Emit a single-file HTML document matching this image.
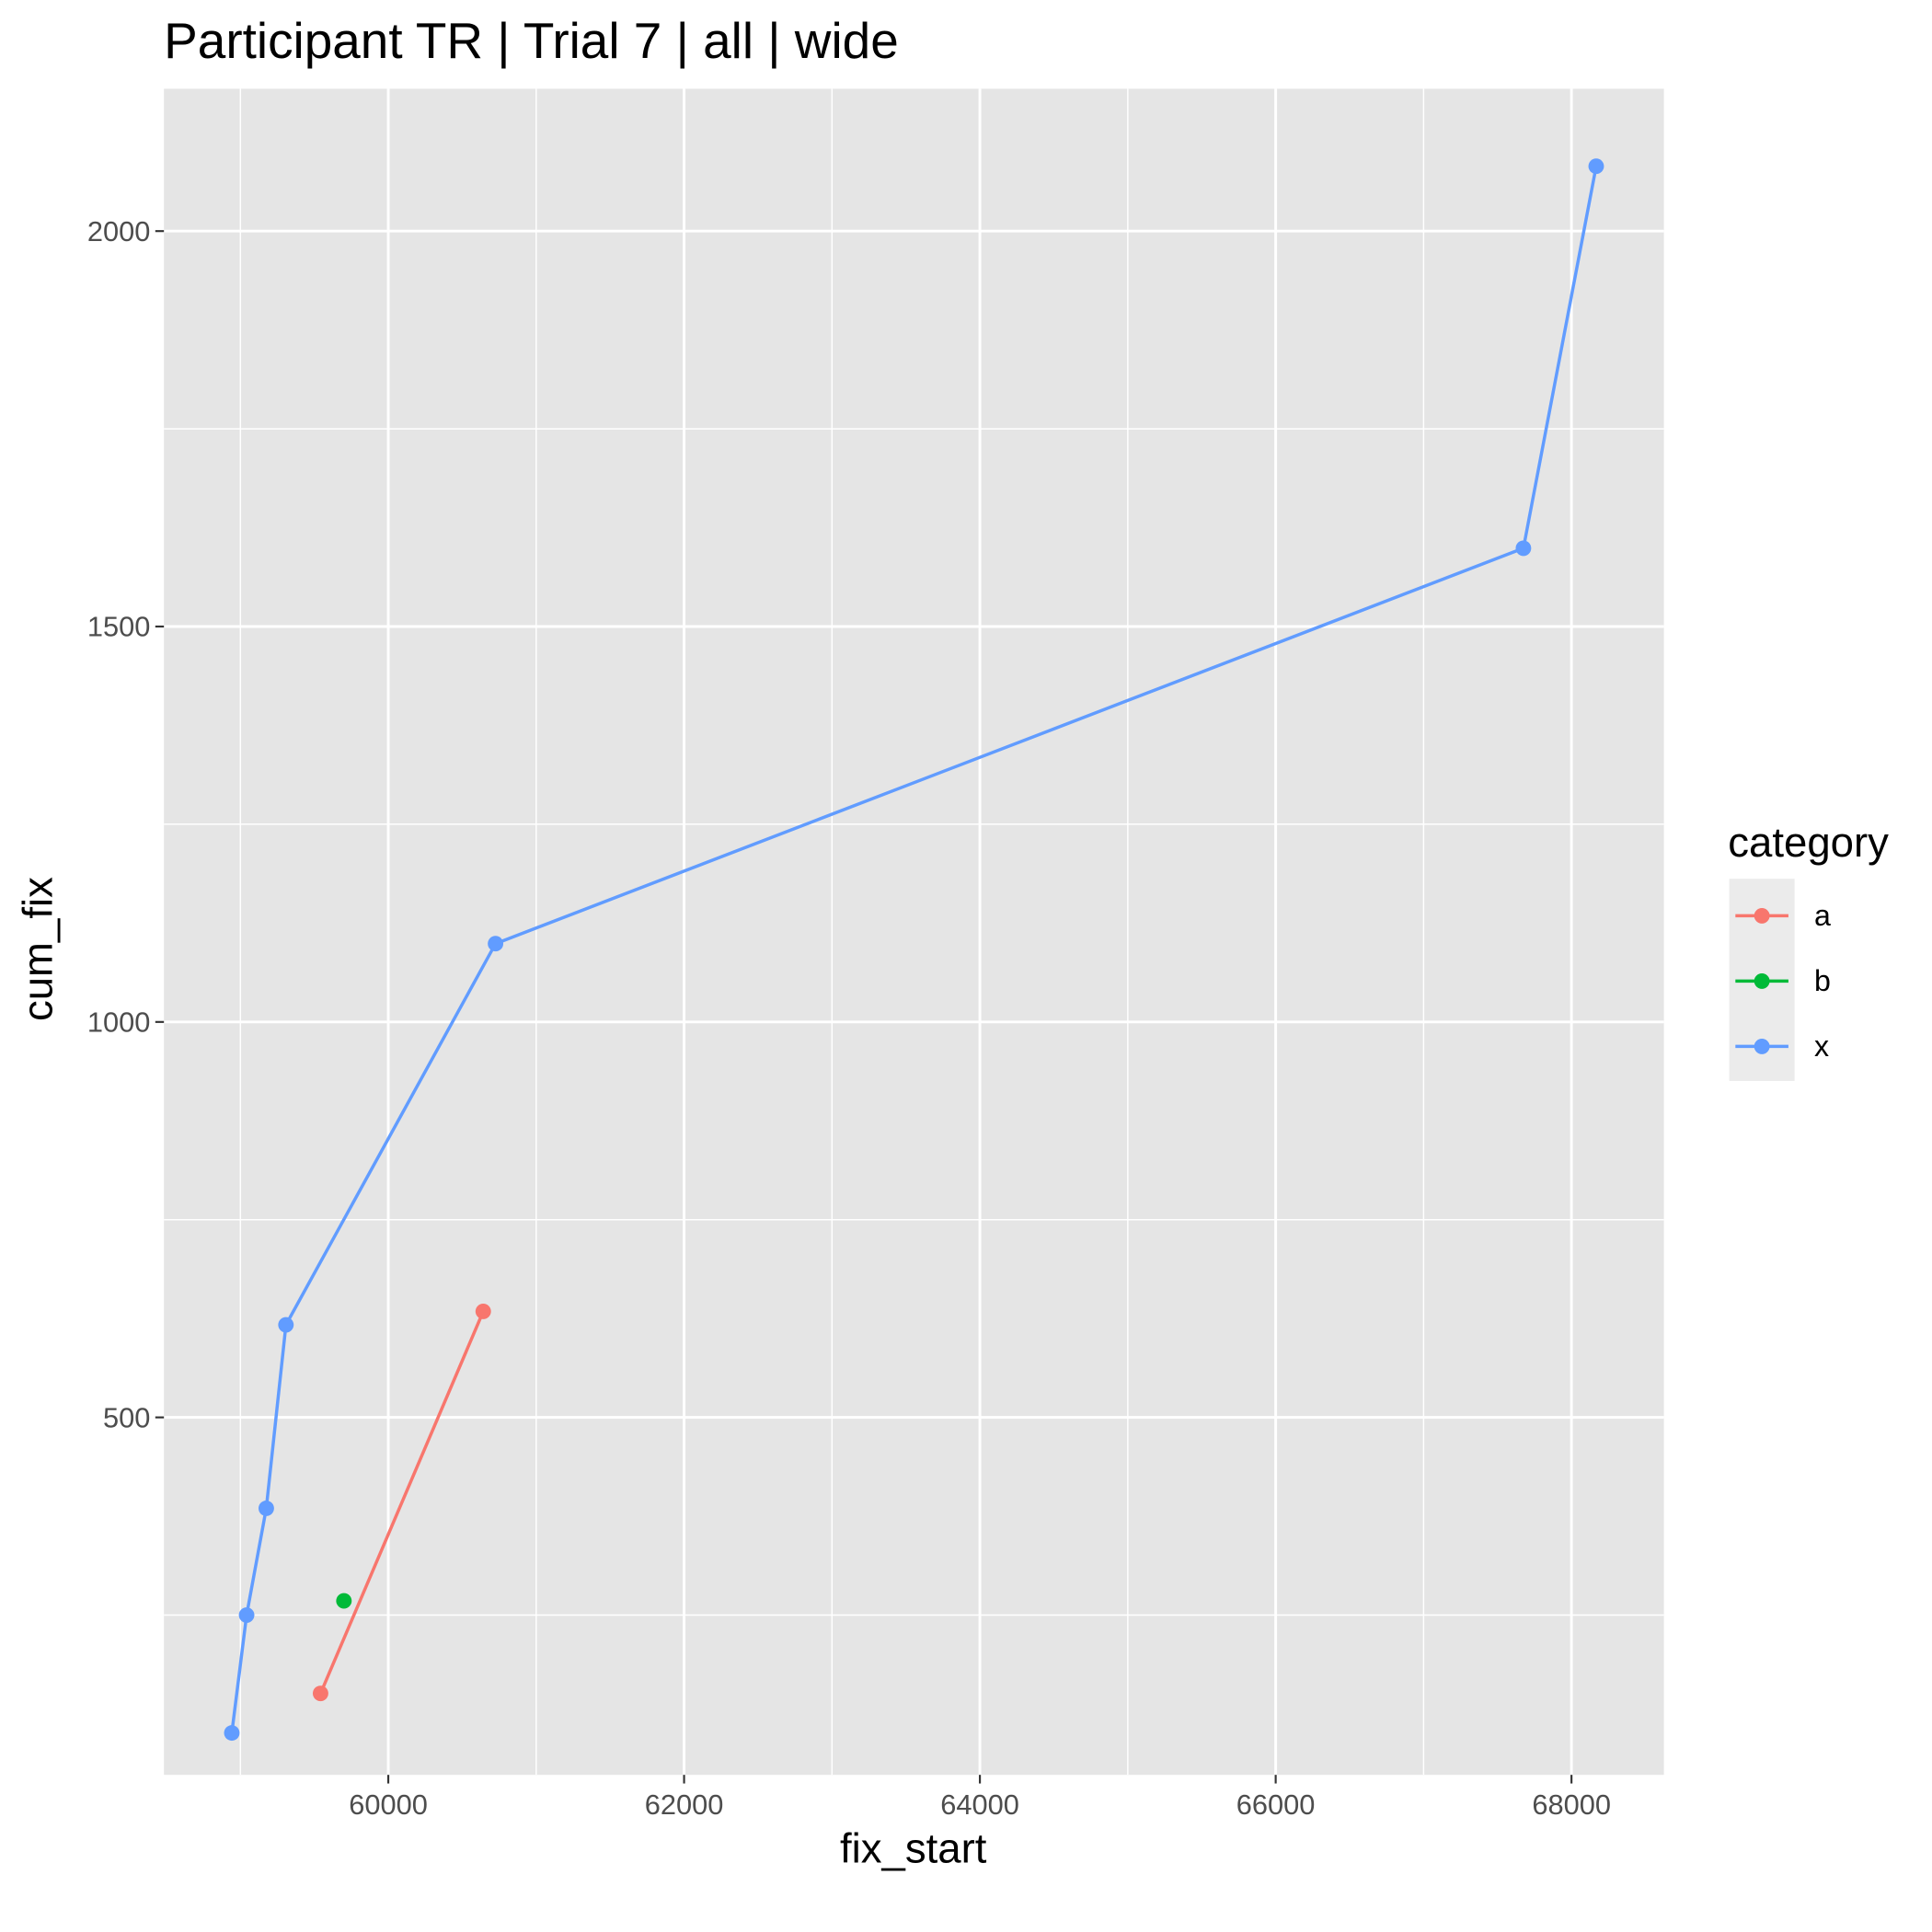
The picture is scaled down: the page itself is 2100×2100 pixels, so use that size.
<!DOCTYPE html>
<html><head><meta charset="utf-8"><style>html,body{margin:0;padding:0;background:#fff}svg{display:block}text{font-family:"Liberation Sans",Arial,sans-serif}</style></head>
<body>
<svg id="chart" width="2100" height="2100" viewBox="0 0 1567.5 1567.5" xmlns="http://www.w3.org/2000/svg">
<text x="133" y="47" font-size="41" fill="#000">Participant TR | Trial 7 | all | wide</text>
<rect x="133" y="72" width="1217" height="1368" fill="#e5e5e5"/>
<g id="grid"></g><g id="series"></g><g id="axes"></g>
<text x="741" y="1511" font-size="34" text-anchor="middle" fill="#000">fix_start</text>
<text transform="translate(42,770) rotate(-90)" font-size="34" text-anchor="middle" fill="#000">cum_fix</text>
<g>
<text x="1402" y="695" font-size="34" fill="#000">category</text>
<rect x="1403" y="713" width="53" height="164" fill="#ebebeb"/>
<g id="legend"></g>
</g>
</svg>
<script>
const xTicks=[60000,62000,64000,66000,68000];
const xMinor=[59000,61000,63000,65000,67000];
const yTicks=[500,1000,1500,2000];
const yMinor=[250,750,1250,1750];
const categories=['a','b','x'];
const colors=['#F8766D','#00BA38','#619CFF'];
const aX=[59542,60642], aY=[151,634];
const bX=[59700], bY=[268];
const xX=[58942,59042,59175,59308,60725,67675,68167];
const xY=[101,250,385,617,1099,1599,2082];
const X0=133,X1=1350,Y0=1440,Y1=72,xmin=58483,xmax=68625,ymin=48,ymax=2180;
const sx=v=>X0+(v-xmin)/(xmax-xmin)*(X1-X0);
const sy=v=>Y0-(v-ymin)/(ymax-ymin)*(Y0-Y1);
const NS='http://www.w3.org/2000/svg';
function mk(t,a,p){const e=document.createElementNS(NS,t);for(const k in a)e.setAttribute(k,a[k]);p.appendChild(e);return e;}
const g=document.getElementById('grid'),ax=document.getElementById('axes'),s=document.getElementById('series'),lg=document.getElementById('legend');
xMinor.forEach(v=>{const l=mk('line',{x1:sx(v),x2:sx(v),y1:Y1,y2:Y0,stroke:'#fff','stroke-width':1.1},g);});
yMinor.forEach(v=>{const l=mk('line',{x1:X0,x2:X1,y1:sy(v),y2:sy(v),stroke:'#fff','stroke-width':1.1},g);});
xTicks.forEach(v=>{const l=mk('line',{x1:sx(v),x2:sx(v),y1:Y1,y2:Y0,stroke:'#fff','stroke-width':2.2},g);
const t=mk('line',{x1:sx(v),x2:sx(v),y1:Y0,y2:Y0+7,stroke:'#333','stroke-width':1.6},ax);
const tx=mk('text',{x:sx(v),y:Y0+32,'font-size':23,fill:'#4d4d4d','text-anchor':'middle'},ax);tx.textContent=v;});
yTicks.forEach(v=>{const l=mk('line',{x1:X0,x2:X1,y1:sy(v),y2:sy(v),stroke:'#fff','stroke-width':2.2},g);
const t=mk('line',{x1:X0-7,x2:X0,y1:sy(v),y2:sy(v),stroke:'#333','stroke-width':1.6},ax);
const tx=mk('text',{x:X0-11,y:sy(v)+8,'font-size':23,fill:'#4d4d4d','text-anchor':'end'},ax);tx.textContent=v;});
[[aX,aY],[bX,bY],[xX,xY]].forEach((d,i)=>{
 if(d[0].length>1){const p=mk('polyline',{points:d[0].map((x,j)=>sx(x)+','+sy(d[1][j])).join(' '),fill:'none',stroke:colors[i],'stroke-width':2.6},s);}
 d[0].forEach((x,j)=>{const c=mk('circle',{cx:sx(x),cy:sy(d[1][j]),r:6.3,fill:colors[i]},s);});
 const y=743+i*53;
 const ll=mk('line',{x1:1408,x2:1451,y1:y,y2:y,stroke:colors[i],'stroke-width':2.6},lg);
 const lc=mk('circle',{cx:1429.5,cy:y,r:6.3,fill:colors[i]},lg);
 const lt=mk('text',{x:1472,y:y+8,'font-size':24,fill:'#000'},lg);lt.textContent=categories[i];
});
</script>
</body></html>
